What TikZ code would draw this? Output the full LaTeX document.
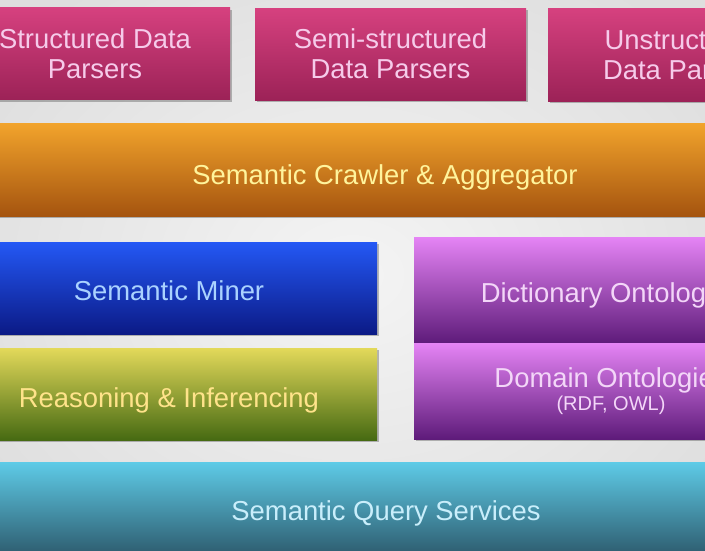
\documentclass[tikz,border=0pt]{standalone}
\usepackage{fontspec}
\setmainfont{Liberation Sans}
\usetikzlibrary{shadows}
\definecolor{bgin}{HTML}{F4F4F4}
\definecolor{bgout}{HTML}{DEDEDE}
\definecolor{pinkT}{HTML}{D6417F}
\definecolor{pinkB}{HTML}{9C2257}
\definecolor{pinkTx}{HTML}{F6CBEA}
\definecolor{orT}{HTML}{F2A42C}
\definecolor{orB}{HTML}{A5540F}
\definecolor{orTx}{HTML}{FFF49C}
\definecolor{blT}{HTML}{2458F5}
\definecolor{blB}{HTML}{0B1A86}
\definecolor{blTx}{HTML}{AAD2FF}
\definecolor{grT}{HTML}{E3D95A}
\definecolor{grB}{HTML}{466A12}
\definecolor{grTx}{HTML}{FFE38A}
\definecolor{puT}{HTML}{E584F5}
\definecolor{puB}{HTML}{5E1B7A}
\definecolor{puTx}{HTML}{F3D6F8}
\definecolor{teT}{HTML}{5ECBE7}
\definecolor{teB}{HTML}{2B5668}
\definecolor{teTx}{HTML}{C9EEFB}
\begin{document}
\begin{tikzpicture}[x=1pt,y=-1pt,
  layer/.style={rectangle, inner sep=0pt, outer sep=0pt, align=center,
    font=\fontsize{27.4}{30}\selectfont,
    drop shadow={shadow xshift=1.5pt, shadow yshift=-2pt, opacity=0.25, fill=black}},
  oneline/.style={text height=#1, text depth=0pt},
  pinkbox/.style={layer, top color=pinkT, bottom color=pinkB, text=pinkTx},
  orangebox/.style={layer, top color=orT, bottom color=orB, text=orTx},
  bluebox/.style={layer, top color=blT, bottom color=blB, text=blTx},
  greenbox/.style={layer, top color=grT, bottom color=grB, text=grTx},
  purplebox/.style={layer, top color=puT, bottom color=puB, text=puTx},
  tealbox/.style={layer, top color=teT, bottom color=teB, text=teTx}]
\useasboundingbox (0,0) rectangle (705,550);
\clip (0,0) rectangle (705,550);
\shade[inner color=bgin, outer color=bgout] (-100,-80) rectangle (805,630);
% top row
\node[pinkbox, minimum width=270pt, minimum height=92pt] (sdp) at (95,53.5) {Structured Data\\Parsers};
\node[pinkbox, minimum width=271pt, minimum height=92pt] (ssdp) at (390.5,54) {Semi-structured\\Data Parsers};
\node[pinkbox, minimum width=270pt, minimum height=93pt] (udp) at (683,54.5) {Unstructured\\Data Parsers};
% crawler
\node[orangebox, oneline=30pt, minimum width=830pt, minimum height=93pt] (crawl) at (385,169.5) {Semantic Crawler \& Aggregator};
% left column
\node[bluebox, oneline=24pt, minimum width=416pt, minimum height=92pt] (miner) at (169,288) {Semantic Miner};
\node[greenbox, oneline=26pt, minimum width=416pt, minimum height=92pt] (reason) at (169,394) {Reasoning \& Inferencing};
% right column
\node[purplebox, oneline=24pt, minimum width=394pt, minimum height=106pt] (dict) at (611,290) {Dictionary Ontologies};
\node[purplebox, minimum width=394pt, minimum height=96pt] (domain) at (611,391) {Domain Ontologies\\[-7pt]{\fontsize{20}{22}\selectfont (RDF, OWL)}};
% query
\node[tealbox, oneline=18pt, minimum width=830pt, minimum height=98pt] (query) at (386,511) {Semantic Query Services};
\end{tikzpicture}
\end{document}
